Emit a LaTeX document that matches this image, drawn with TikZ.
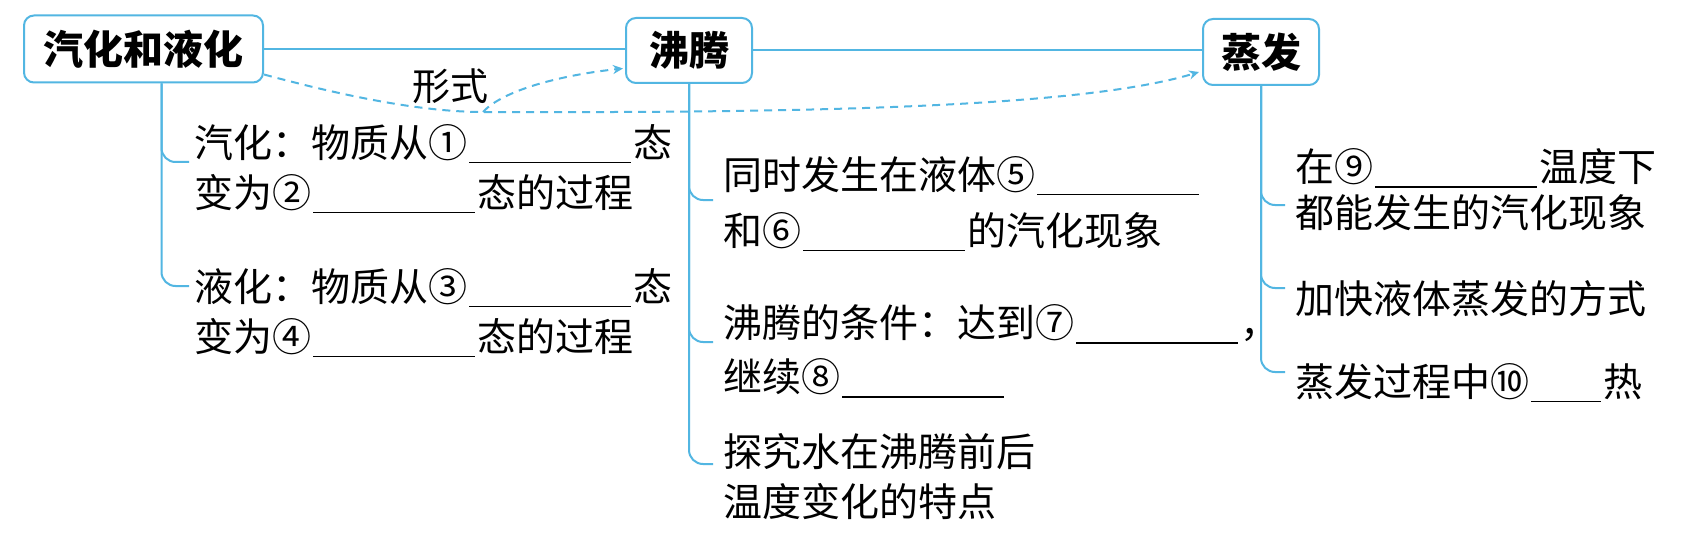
\documentclass[tikz,border=0pt]{standalone}
\usepackage{fontspec}
\setmainfont{Noto Sans CJK SC}
\usetikzlibrary{arrows.meta,calc}
\definecolor{lineblue}{RGB}{82,182,226}
\newcommand\blank[1]{\hspace{1pt}\rule[-3pt]{#1}{0.7pt}\hspace{1pt}}
\begin{document}
\begin{tikzpicture}[x=0.5pt,y=-0.5pt,
  box/.style={draw=lineblue, line width=1pt, rounded corners=5pt, fill=white,
    font=\fontsize{20}{24}\selectfont\bfseries, inner sep=0pt},
  txt/.style={anchor=west, inner sep=0pt, align=left, font=\fontsize{19.5}{25}\selectfont},
  lbl/.style={inner sep=0pt, font=\fontsize{19}{24}\selectfont},
  conn/.style={draw=lineblue, line width=1pt},
  branch/.style={conn, rounded corners=7pt},
  flowline/.style={draw=lineblue, line width=1pt, dash pattern=on 4pt off 3pt,
    -{Stealth[length=5pt,width=4.5pt]}}]
\useasboundingbox (0,0) rectangle (1692,535);
\fill[white] (0,0) rectangle (1692,535);

% main boxes
\node[box, minimum width=119.5pt, minimum height=33.5pt] (b1) at (143.5,49) {汽化和液化};
\node[box, minimum width=63pt, minimum height=32.5pt] (b2) at (689,50.5) {沸腾};
\node[box, minimum width=58pt, minimum height=33pt] (b3) at (1261,52) {蒸发};

% texts
\node[txt] (L1) at (194,169) {汽化：物质从①\blank{81pt}态\\变为②\blank{81pt}态的过程};
\node[txt] (L2) at (194,313) {液化：物质从③\blank{81pt}态\\变为④\blank{81pt}态的过程};
\node[txt] (M1) at (723,204) {同时发生在液体⑤\blank{81pt}\\[3pt]和⑥\blank{81pt}的汽化现象};
\node[txt] (M2) at (723,351) {沸腾的条件：达到⑦\blank{81pt}，\\[2pt]继续⑧\blank{81pt}};
\node[txt] (M3) at (723,477) {探究水在沸腾前后\\温度变化的特点};
\node[txt] (R1) at (1295,190) {在⑨\blank{81pt}温度下\\[-2pt]都能发生的汽化现象};
\node[txt] (R2) at (1295,299) {加快液体蒸发的方式};
\node[txt] (R3) at (1295,383) {蒸发过程中⑩\blank{35pt}热};
\node[lbl] (form) at (450,86) {形式};

% top connections
\draw[conn] (b1.east) -- (b1.east -| b2.west);
\draw[conn] (b2.east) -- (b2.east -| b3.west);

% branches
\draw[branch] ($(b1.south)+(18,0)$) |- ($(L1.west)+(-5,-7)$);
\draw[branch] ($(b1.south)+(18,0)$) |- ($(L2.west)+(-5,-27)$);
\draw[branch] (b2.south) |- ($(M1.west)+(-10,-4)$);
\draw[branch] (b2.south) |- ($(M2.west)+(-10,-9)$);
\draw[branch] (b2.south) |- ($(M3.west)+(-10,-13)$);
\draw[branch] (b3.south) |- ($(R1.west)+(-10,15)$);
\draw[branch] (b3.south) |- ($(R2.west)+(-10,-11)$);
\draw[branch] (b3.south) |- ($(R3.west)+(-10,-11)$);

% dashed "form" arrows
\coordinate (fork) at (483,112);
\draw[flowline] ($(b1.south east)+(0,-9)$) .. controls (340,95) and (420,112) .. (fork)
  .. controls (800,113) and (1080,108) .. ($(b3.west)+(-3,20)$);
\draw[flowline] (fork) .. controls (505,88) and (570,74) .. ($(b2.west)+(-2,18)$);
\end{tikzpicture}
\end{document}
